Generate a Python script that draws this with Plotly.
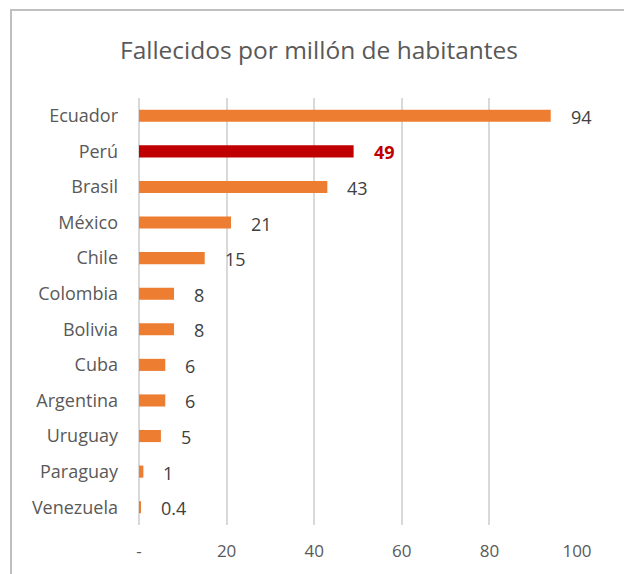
import plotly.graph_objects as go

countries = ["Ecuador", "Perú", "Brasil", "México", "Chile", "Colombia", "Bolivia",
             "Cuba", "Argentina", "Uruguay", "Paraguay", "Venezuela"]
values = [94, 49, 43, 21, 15, 8, 8, 6, 6, 5, 1, 0.4]
labels = ["94", "49", "43", "21", "15", "8", "8", "6", "6", "5", "1", "0.4"]
highlight = "Perú"
tick_vals = [0, 20, 40, 60, 80, 100]
tick_text = ["-", "20", "40", "60", "80", "100"]

ORANGE = "#ED7D31"
RED = "#C00000"
FONT = "Open Sans"

# page has an 8px body margin; figure is laid out in its own coordinates
W, H = 624, 566
L, R, T, B = 131, 55, 90, 49
PW, PH = W - L - R, H - T - B

colors = [RED if c == highlight else ORANGE for c in countries]

fig = go.Figure(go.Bar(
    x=values, y=countries, orientation="h",
    marker=dict(color=colors, line=dict(width=0)),
    width=0.34, hoverinfo="skip",
))

for c, v, t in zip(countries, values, labels):
    hl = c == highlight
    fig.add_annotation(
        x=v, y=c, xref="x", yref="y", text=f"<b>{t}</b>" if hl else t,
        showarrow=False, xanchor="left", yanchor="middle", xshift=18, yshift=-1,
        font=dict(family=FONT, size=18, color=RED if hl else "#404040"),
    )

fig.add_shape(type="rect", xref="paper", yref="paper",
              x0=(3 - L) / PW, x1=(617 - L) / PW,
              y0=(H - B - 580) / PH, y1=(H - B - 2) / PH,
              line=dict(color="#BFBFBF", width=2), layer="below")

fig.update_layout(
    width=W, height=H,
    margin=dict(l=L, r=R, t=T, b=B),
    paper_bgcolor="white", plot_bgcolor="white",
    showlegend=False,
    title=dict(text="Fallecidos por millón de habitantes", x=(311) / W, xref="container",
               xanchor="center", y=(H - 42) / H, yref="container", yanchor="middle",
               font=dict(family=FONT, size=24.5, color="#595959")),
    xaxis=dict(range=[0, 100], tickvals=tick_vals, ticktext=tick_text,
               showgrid=True, gridcolor="#D9D9D9", gridwidth=1.5,
               zeroline=True, zerolinecolor="#D9D9D9", zerolinewidth=1.5,
               showline=False, ticks="",
               tickfont=dict(family=FONT, size=17, color="#595959"),
               ticklabelstandoff=14, fixedrange=True),
    yaxis=dict(categoryorder="array", categoryarray=countries[::-1],
               showgrid=False, zeroline=False, showline=False, ticks="",
               tickfont=dict(family=FONT, size=18, color="#595959"),
               ticklabelstandoff=20, fixedrange=True),
)

fig.write_html("out.html")
